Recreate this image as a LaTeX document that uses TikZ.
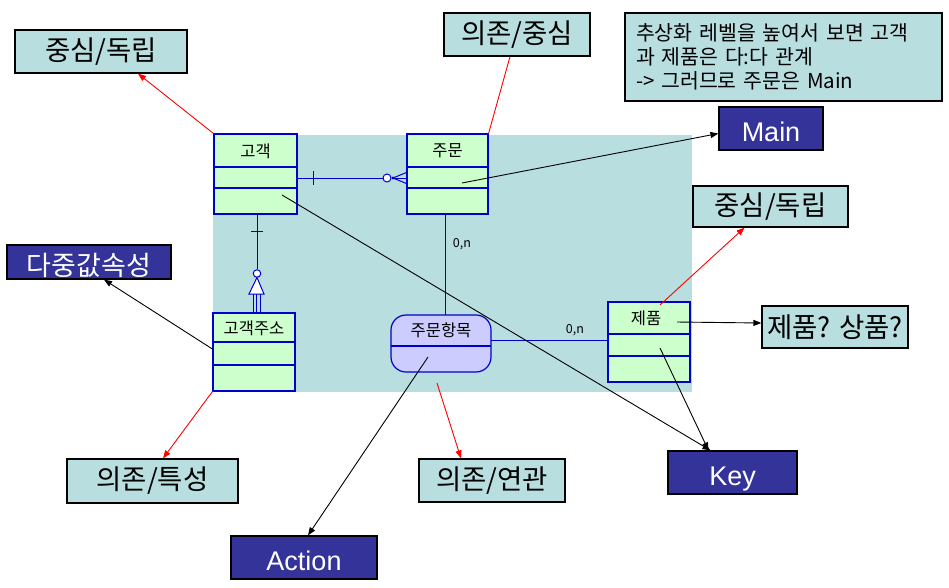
\documentclass[tikz,border=0pt]{standalone}
\usepackage{fontspec}
\setmainfont{Noto Sans CJK KR}
\newfontfamily\latinf{Liberation Sans}
\usetikzlibrary{arrows.meta}
\definecolor{bgteal}{RGB}{185,222,224}
\definecolor{entgreen}{RGB}{204,255,204}
\definecolor{entblue}{RGB}{0,0,204}
\definecolor{lav}{RGB}{204,204,255}
\definecolor{navy}{RGB}{51,51,153}
\begin{document}
\begin{tikzpicture}[x=1pt,y=-1pt,
  lbl/.style={draw=black, fill=bgteal, line width=1.2pt, inner sep=0pt, font=\fontsize{27.5}{31}\selectfont},
  dark/.style={draw=black, fill=navy, text=white, line width=1.2pt, inner sep=0pt, text height=26pt, text depth=0pt, font=\latinf\fontsize{27}{31}\selectfont},
  ent/.style={draw=entblue, fill=entgreen, line width=1.2pt, inner sep=0pt},
  sep/.style={draw=entblue, line width=1.2pt},
  etitle/.style={inner sep=0pt, font=\fontsize{16.5}{18}\selectfont},
  er/.style={draw=entblue, line width=1pt},
  card/.style={inner sep=0pt, font=\fontsize{12.5}{14}\selectfont},
  redarr/.style={draw=red, line width=0.9pt, -{Triangle[length=8pt,width=6pt]}},
  blkarr/.style={draw=black, line width=0.9pt, -{Triangle[length=8pt,width=6pt]}},
  redln/.style={draw=red, line width=0.9pt}
]
\useasboundingbox (0,0) rectangle (949,587);
% background
\fill[bgteal] (213,135) rectangle (692,392);

% entities
\node[ent, minimum width=83pt, minimum height=80pt] (gogaek) at (255.5,174) {};
\draw[sep] (gogaek.west |- 0,167) -- (gogaek.east |- 0,167);
\draw[sep] (gogaek.west |- 0,188) -- (gogaek.east |- 0,188);
\node[etitle] (gogaekT) at (255.5,151) {고객};

\node[ent, minimum width=81pt, minimum height=80pt] (jumun) at (447.5,174) {};
\draw[sep] (jumun.west |- 0,167) -- (jumun.east |- 0,167);
\draw[sep] (jumun.west |- 0,188) -- (jumun.east |- 0,188);
\node[etitle] (jumunT) at (447.5,151) {주문};

\node[ent, minimum width=82pt, minimum height=78pt] (addr) at (254,352) {};
\draw[sep] (addr.west |- 0,342) -- (addr.east |- 0,342);
\draw[sep] (addr.west |- 0,365) -- (addr.east |- 0,365);
\node[etitle] (addrT) at (254,328) {고객주소};

\node[ent, minimum width=82pt, minimum height=80pt] (product) at (649,342) {};
\draw[sep] (product.west |- 0,334) -- (product.east |- 0,334);
\draw[sep] (product.west |- 0,356) -- (product.east |- 0,356);
\node[etitle] (productT) at (646,318) {제품};

\draw[er, fill=lav, line width=1.2pt, rounded corners=15pt] (391,315) rectangle (491,372);
\node[inner sep=0pt, minimum width=100pt, minimum height=57pt] (item) at (441,343.5) {};
\draw[sep] (item.west |- 0,346) -- (item.east |- 0,346);
\node[etitle] (itemT) at (441,330) {주문항목};

% relationship 고객 - 주문
\node[circle, draw=entblue, fill=white, line width=1pt, minimum size=8pt, inner sep=0pt] (c1) at (387,178) {};
\draw[er] ([yshift=-4pt]gogaek.east) -- (c1.west);
\draw[er] (313,171) -- (313,185);
\fill[entblue] (393,178) circle (1.6);
\draw[er] (c1.east) -- ([yshift=-4pt]jumun.west);
\draw[er] (393,178) -- ([yshift=1.5pt]jumun.west);
\draw[er] (393,178) -- ([yshift=-9.5pt]jumun.west);

% relationship 고객 - 고객주소
\node[circle, draw=entblue, fill=white, line width=1pt, minimum size=7.5pt, inner sep=0pt] (c2) at (257,273.5) {};
\draw[er] (gogaek.south -| 257,0) -- (c2.north);
\draw[er] (251,231) -- (263,231);
\draw[er, fill=white] (257,277.5) -- (264,294) -- (249,294) -- cycle;
\draw[er] (253,294) -- (addr.north -| 253,0);
\draw[er] (256.5,294) -- (addr.north -| 256.5,0);
\draw[er] (260,294) -- (addr.north -| 260,0);

% relationship 주문 - 주문항목
\draw[er] ([xshift=-2.5pt]jumun.south) -- ([xshift=-2.5pt]jumun.south |- item.north);
\node[card] (card1) at (462,244) {0,n};
% relationship 주문항목 - 제품
\draw[er] (item.east |- 0,340) -- (product.west |- 0,340);
\node[card] (card2) at (575,330) {0,n};

% label boxes
\node[lbl, minimum width=172pt, minimum height=43pt] (lbl1) at (101,51.5) {중심/독립};
\node[lbl, minimum width=146pt, minimum height=43pt] (lbl2) at (517,34.5) {의존/중심};
\node[lbl, minimum width=317pt, minimum height=88pt, text width=295pt, inner xsep=11pt, align=left,
      font=\fontsize{20.5}{23.8}\selectfont] (callout) at (783.5,57)
      {추상화 레벨을 높여서 보면 고객\\과 제품은 다:다 관계\\-> 그러므로 주문은 Main};
\node[dark, minimum width=104pt, minimum height=43pt] (main) at (771,128.5) {Main};
\node[lbl, minimum width=155pt, minimum height=41pt] (lbl3) at (770.5,206.5) {중심/독립};
\node[lbl, minimum width=146pt, minimum height=42pt] (lbl4) at (835,327) {제품? 상품?};
\node[dark, minimum width=129pt, minimum height=43pt] (key) at (732.5,472.5) {Key};
\node[dark, minimum width=164pt, minimum height=34pt, font=\fontsize{27}{30}\selectfont] (multi) at (89,262) {다중값속성};
\node[lbl, minimum width=171pt, minimum height=44pt] (lbl5) at (152.5,481) {의존/특성};
\node[lbl, minimum width=146pt, minimum height=43pt] (lbl6) at (492,480.5) {의존/연관};
\node[dark, minimum width=146pt, minimum height=43pt] (action) at (304,557.5) {Action};

% anchor points inside entities
\coordinate (jumunP) at (462,183);
\coordinate (gogaekP) at (282,195);
\coordinate (prodTop) at (660,305);
\coordinate (prodTxt) at (677,322);
\coordinate (prodP) at (660,348);
\coordinate (itemP) at (428,357);
\coordinate (itemBelow) at (437,383);

% arrows
\draw[redarr] (gogaek.north west) -- ([xshift=37pt]lbl1.south);
\draw[redln] (jumun.north east) -- ([xshift=-7pt]lbl2.south);
\draw[blkarr] (jumunP) -- ([yshift=-5pt]main.west);
\draw[redarr] (prodTop) -- ([xshift=-26pt]lbl3.south);
\draw[blkarr] (prodTxt) -- ([yshift=4pt]lbl4.west);
\draw[blkarr] (prodP) -- ([xshift=-24pt]key.north);
\draw[blkarr] (gogaekP) -- ([xshift=-22pt]key.north);
\draw[blkarr] ([yshift=3pt]addr.west) -- ([xshift=15pt]multi.south);
\draw[redarr] (addr.south west) -- ([xshift=10.5pt]lbl5.north);
\draw[blkarr] (itemP) -- ([xshift=4pt]action.north);
\draw[redarr] (itemBelow) -- ([xshift=-31pt]lbl6.north);
\end{tikzpicture}
\end{document}
